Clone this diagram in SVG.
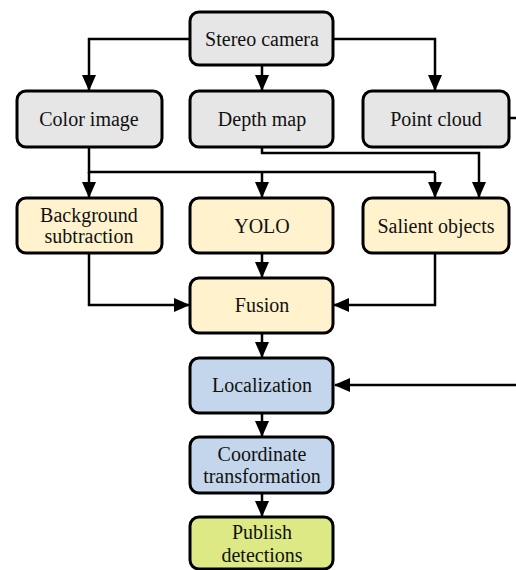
<svg xmlns="http://www.w3.org/2000/svg" width="516" height="570" viewBox="0 0 516 570">
<style>
.box{stroke:#000;stroke-width:3;}
.g{fill:#e6e6e6}.y{fill:#fff2cc}.b{fill:#c4d6eb}.gr{fill:#dde985}
text{font-family:'Liberation Serif','Times New Roman','DejaVu Serif',serif;font-size:20px;text-anchor:middle;fill:#111}
.c{fill:none;stroke:#000;stroke-width:2.5;marker-end:url(#ah)}
.n{fill:none;stroke:#000;stroke-width:2.5}
</style>
<defs>
<marker id="ah" markerWidth="16" markerHeight="14" refX="15" refY="7" orient="auto" markerUnits="userSpaceOnUse" viewBox="0 0 16 14">
<path d="M0,0 L16,7 L0,14 z" fill="#000"/>
</marker>
</defs>
<g id="connectors">
<path class="c" d="M190,39 H89 V90"/>
<path class="c" d="M262,65 V90"/>
<path class="c" d="M333,39 H435 V90"/>
<path class="n" d="M89,147 V172 H435"/>
<path class="c" d="M89,172 V197"/>
<path class="c" d="M262,172 V197"/>
<path class="c" d="M435,172 V197"/>
<path class="c" d="M262,147 V153 H479 V197"/>
<path class="n" d="M509,118 H518"/>
<path class="c" d="M89,253 V305 H189"/>
<path class="c" d="M435,253 V305 H334"/>
<path class="c" d="M262,253 V277"/>
<path class="c" d="M262,333 V357"/>
<path class="c" d="M518,385 H335"/>
<path class="c" d="M262,413 V436"/>
<path class="c" d="M262,493 V516"/>
</g>
<g id="stereo"><rect class="box g" x="190" y="12" width="143" height="53" rx="9"/><text x="262" y="46">Stereo camera</text></g>
<g id="color"><rect class="box g" x="17" y="91" width="145" height="56" rx="9"/><text x="89" y="126">Color image</text></g>
<g id="depth"><rect class="box g" x="190" y="91" width="143" height="56" rx="9"/><text x="262" y="126">Depth map</text></g>
<g id="cloud"><rect class="box g" x="363" y="91" width="146" height="56" rx="9"/><text x="436" y="126">Point cloud</text></g>
<g id="bg"><rect class="box y" x="17" y="198" width="145" height="55" rx="9"/><text x="89" y="222">Background</text><text x="89" y="243">subtraction</text></g>
<g id="yolo"><rect class="box y" x="190" y="198" width="143" height="55" rx="9"/><text x="262" y="233">YOLO</text></g>
<g id="salient"><rect class="box y" x="363" y="198" width="146" height="55" rx="9"/><text x="436" y="233">Salient objects</text></g>
<g id="fusion"><rect class="box y" x="190" y="278" width="143" height="55" rx="9"/><text x="262" y="312">Fusion</text></g>
<g id="loc"><rect class="box b" x="190" y="358" width="143" height="55" rx="9"/><text x="262" y="392">Localization</text></g>
<g id="coord"><rect class="box b" x="190" y="437" width="143" height="56" rx="9"/><text x="262" y="461">Coordinate</text><text x="262" y="483">transformation</text></g>
<g id="publish"><rect class="box gr" x="190" y="517" width="143" height="52" rx="9"/><text x="262" y="539">Publish</text><text x="262" y="562">detections</text></g>
</svg>
